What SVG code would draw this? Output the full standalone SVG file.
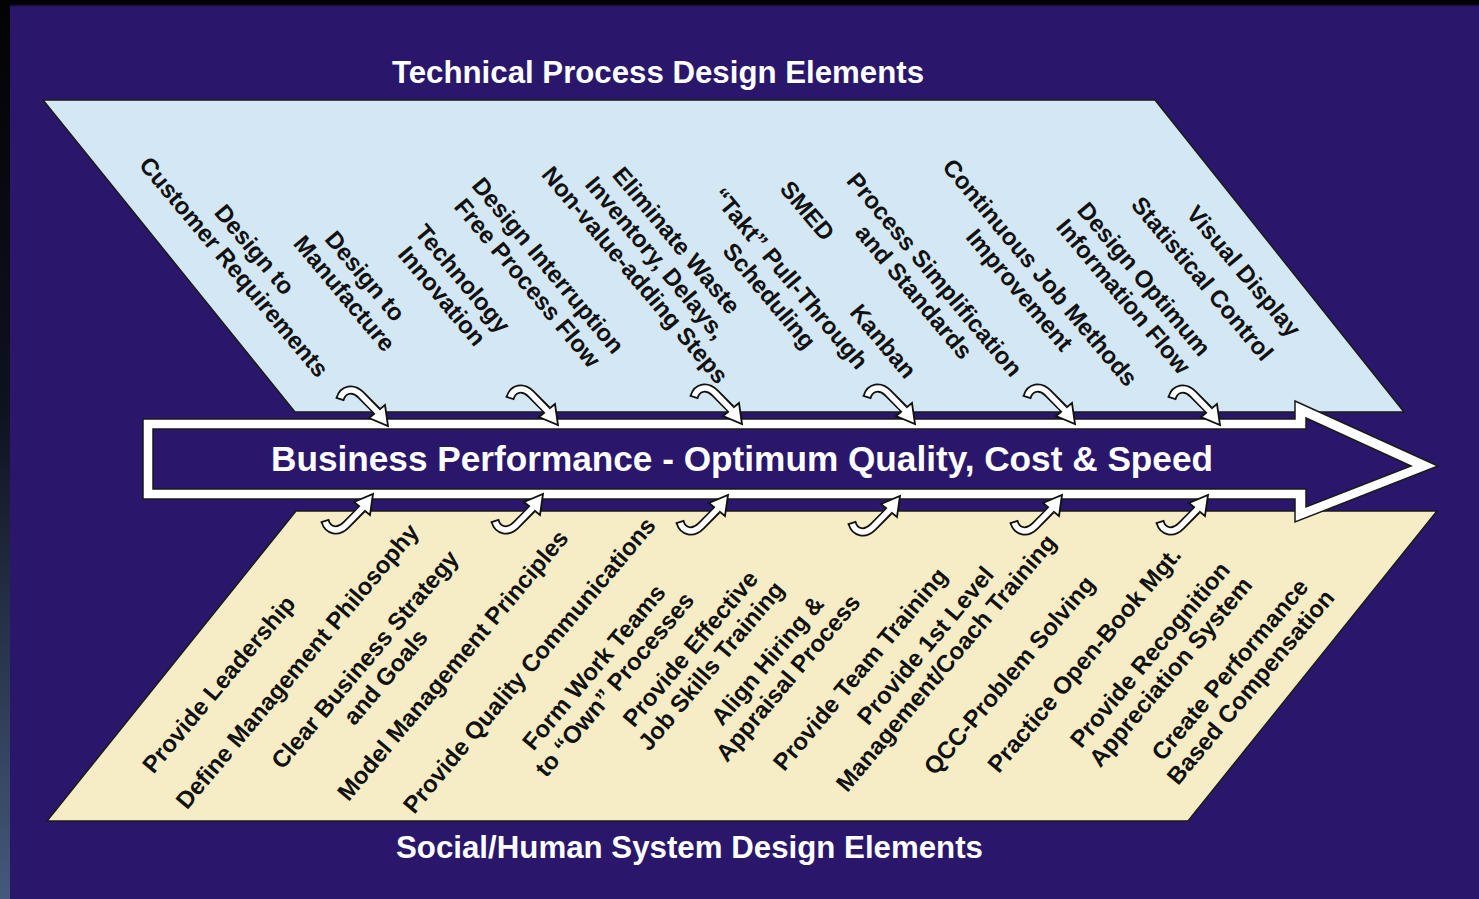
<svg xmlns="http://www.w3.org/2000/svg" xmlns:xlink="http://www.w3.org/1999/xlink" width="1479" height="899" viewBox="0 0 1479 899">
<style>
  .lbl { font-family: "Liberation Sans", Arial, sans-serif; font-weight: bold; font-size: 24px; fill: #111; text-anchor: middle; }
  .title { font-family: "Liberation Sans", Arial, sans-serif; font-weight: bold; font-size: 31px; fill: #ffffff; text-anchor: middle; }
  .main { font-family: "Liberation Sans", Arial, sans-serif; font-weight: bold; font-size: 35px; fill: #ffffff; text-anchor: middle; }
  .panel { stroke: #1a1a1a; stroke-width: 1.5; }
</style>
<defs>
  <linearGradient id="leftEdge" x1="0" y1="0" x2="0" y2="1">
    <stop offset="0" stop-color="#030303"/>
    <stop offset="0.45" stop-color="#0e1120"/>
    <stop offset="1" stop-color="#45597b"/>
  </linearGradient>
  <linearGradient id="topEdge" x1="0" y1="0" x2="0" y2="1">
    <stop offset="0" stop-color="#000"/>
    <stop offset="0.6" stop-color="#050310"/>
    <stop offset="1" stop-color="#2a176c"/>
  </linearGradient>
  <g id="curl">
    <path d="M -48,-27 C -45,-37 -35,-39 -27,-31 L -11,-15" fill="none" stroke="#111" stroke-width="9" stroke-linecap="butt"/>
    <polygon points="0,0 -3,-21 -19,-8" fill="#fff" stroke="#111" stroke-width="1.8" stroke-linejoin="miter"/>
    <path d="M -48,-27 C -45,-37 -35,-39 -27,-31 L -10,-13.5" fill="none" stroke="#fff" stroke-width="5.5" stroke-linecap="butt"/>
    <line x1="-52.3" y1="-28.3" x2="-43.7" y2="-25.7" stroke="#111" stroke-width="1.8"/>
  </g>
</defs>

<rect x="0" y="0" width="1479" height="899" fill="#2a176c"/>
<rect x="0" y="0" width="1479" height="7" fill="url(#topEdge)"/>
<rect x="0" y="0" width="10" height="899" fill="url(#leftEdge)"/>

<g id="technical-panel">
  <polygon class="panel" points="43,100 1155,100 1404,412 295,412" fill="#d3e7f5"/>
</g>
<g id="social-panel">
  <polygon class="panel" points="296,511 1437,511 1188,821 47,821" fill="#f6edc7"/>
</g>

<g id="title-technical">
  <text class="title" x="658" y="83" textLength="532" lengthAdjust="spacingAndGlyphs">Technical Process Design Elements</text>
</g>
<g id="title-social">
  <text class="title" x="689.5" y="858" textLength="587" lengthAdjust="spacingAndGlyphs">Social/Human System Design Elements</text>
</g>

<g id="main-arrow">
  <polygon points="143,419 1295,419 1295,401 1438,466 1295,522 1295,499 143,499" fill="#ffffff" stroke="#1a1a1a" stroke-width="1.5"/>
  <polygon points="153,429 1306,429 1306,418 1411,466 1306,507 1306,489 153,489" fill="#2a176c" stroke="#1a1a1a" stroke-width="1.5"/>
  <text class="main" x="742" y="471" textLength="942" lengthAdjust="spacingAndGlyphs">Business Performance - Optimum Quality, Cost &amp; Speed</text>
</g>

<g id="connectors">
  <use xlink:href="#curl" href="#curl" transform="translate(388,426)"/>
  <use xlink:href="#curl" href="#curl" transform="translate(558,425)"/>
  <use xlink:href="#curl" href="#curl" transform="translate(742,424)"/>
  <use xlink:href="#curl" href="#curl" transform="translate(915,424)"/>
  <use xlink:href="#curl" href="#curl" transform="translate(1075,424)"/>
  <use xlink:href="#curl" href="#curl" transform="translate(1220,425)"/>
  <use xlink:href="#curl" href="#curl" transform="translate(373,494) scale(1,-1)"/>
  <use xlink:href="#curl" href="#curl" transform="translate(543,494) scale(1,-1)"/>
  <use xlink:href="#curl" href="#curl" transform="translate(728,495) scale(1,-1)"/>
  <use xlink:href="#curl" href="#curl" transform="translate(900,496) scale(1,-1)"/>
  <use xlink:href="#curl" href="#curl" transform="translate(1062,495) scale(1,-1)"/>
  <use xlink:href="#curl" href="#curl" transform="translate(1208,495) scale(1,-1)"/>
</g>

<g id="technical-elements">
  <g id="t1" transform="translate(244.5,258) rotate(50)"><text class="lbl" x="0" y="-5">Design to</text><text class="lbl" x="0" y="22">Customer Requirements</text></g>
  <g id="t2" transform="translate(355,284.5) rotate(50)"><text class="lbl" x="0" y="-5">Design to</text><text class="lbl" x="0" y="22">Manufacture</text></g>
  <g id="t3" transform="translate(452.5,287) rotate(50)"><text class="lbl" x="0" y="-5">Technology</text><text class="lbl" x="0" y="22">Innovation</text></g>
  <g id="t4" transform="translate(538,274) rotate(50)"><text class="lbl" x="0" y="-5">Design Interruption</text><text class="lbl" x="0" y="22">Free Process Flow</text></g>
  <g id="t5" transform="translate(656,257.5) rotate(50)"><text class="lbl" x="0" y="-18.5">Eliminate Waste</text><text class="lbl" x="0" y="8.5">Inventory, Delays,</text><text class="lbl" x="0" y="35.5">Non-value-adding Steps</text></g>
  <g id="t6" transform="translate(780,287) rotate(50)"><text class="lbl" x="0" y="-5">“Takt” Pull-Through</text><text class="lbl" x="0" y="22">Scheduling</text></g>
  <g id="t7" transform="translate(807.5,210.5) rotate(50)"><text class="lbl" x="0" y="8.5">SMED</text></g>
  <g id="t8" transform="translate(883.5,341) rotate(50)"><text class="lbl" x="0" y="8.5">Kanban</text></g>
  <g id="t9" transform="translate(924.5,283) rotate(50)"><text class="lbl" x="0" y="-5">Process Simplification</text><text class="lbl" x="0" y="22">and Standards</text></g>
  <g id="t10" transform="translate(1030,281) rotate(50)"><text class="lbl" x="0" y="-5">Continuous Job Methods</text><text class="lbl" x="0" y="22">Improvement</text></g>
  <g id="t11" transform="translate(1134,287.5) rotate(50)"><text class="lbl" x="0" y="-5">Design Optimum</text><text class="lbl" x="0" y="22">Information Flow</text></g>
  <g id="t12" transform="translate(1244,271) rotate(50)"><text class="lbl" x="0" y="8.5">Visual Display</text></g>
  <g id="t13" transform="translate(1202.5,278.5) rotate(50)"><text class="lbl" x="0" y="8.5">Statistical Control</text></g>
</g>

<g id="social-elements">
  <g id="s1" transform="translate(218.5,684) rotate(-50)"><text class="lbl" x="0" y="8.5">Provide Leadership</text></g>
  <g id="s2" transform="translate(297,666) rotate(-50)"><text class="lbl" x="0" y="8.5">Define Management Philosophy</text></g>
  <g id="s3" transform="translate(375,668) rotate(-50)"><text class="lbl" x="0" y="-5">Clear Business Strategy</text><text class="lbl" x="0" y="22">and Goals</text></g>
  <g id="s4" transform="translate(452.5,665) rotate(-50)"><text class="lbl" x="0" y="8.5">Model Management Principles</text></g>
  <g id="s5" transform="translate(529,665) rotate(-50)"><text class="lbl" x="0" y="8.5">Provide Quality Communications</text></g>
  <g id="s6" transform="translate(604,675.5) rotate(-50)"><text class="lbl" x="0" y="-5">Form Work Teams</text><text class="lbl" x="0" y="22">to “Own” Processes</text></g>
  <g id="s7" transform="translate(700.5,657) rotate(-50)"><text class="lbl" x="0" y="-5">Provide Effective</text><text class="lbl" x="0" y="22">Job Skills Training</text></g>
  <g id="s8" transform="translate(777.5,669) rotate(-50)"><text class="lbl" x="0" y="-5">Align Hiring &amp;</text><text class="lbl" x="0" y="22">Appraisal Process</text></g>
  <g id="s9" transform="translate(860,669) rotate(-50)"><text class="lbl" x="0" y="8.5">Provide Team Training</text></g>
  <g id="s10" transform="translate(935.5,654) rotate(-50)"><text class="lbl" x="0" y="-5">Provide 1st Level</text><text class="lbl" x="0" y="22">Management/Coach Training</text></g>
  <g id="s11" transform="translate(1009,675) rotate(-50)"><text class="lbl" x="0" y="8.5">QCC-Problem Solving</text></g>
  <g id="s12" transform="translate(1084,659.5) rotate(-50)"><text class="lbl" x="0" y="8.5">Practice Open-Book Mgt.</text></g>
  <g id="s13" transform="translate(1160,663) rotate(-50)"><text class="lbl" x="0" y="-5">Provide Recognition</text><text class="lbl" x="0" y="22">Appreciation System</text></g>
  <g id="s14" transform="translate(1240,678) rotate(-50)"><text class="lbl" x="0" y="-5">Create Performance</text><text class="lbl" x="0" y="22">Based Compensation</text></g>
</g>
</svg>
